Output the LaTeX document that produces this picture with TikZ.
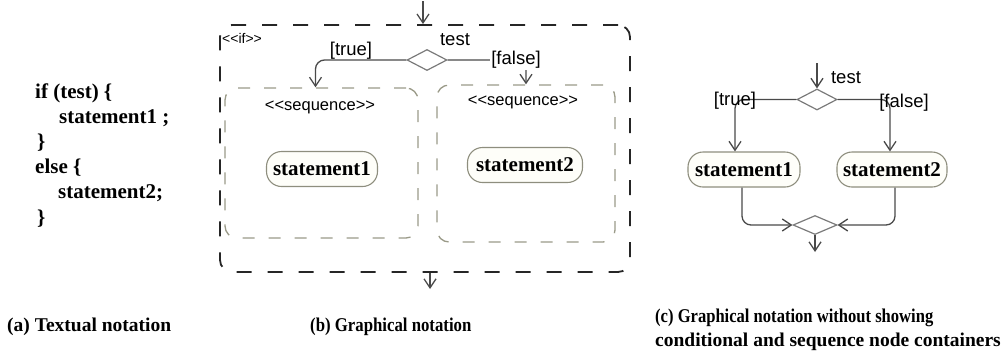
\documentclass[tikz,border=0pt]{standalone}
\usepackage{fontspec}
\setmainfont{Liberation Serif}
\newfontfamily\lblfont{Liberation Sans}
\usetikzlibrary{arrows.meta,shapes.geometric}

\definecolor{flowgray}{HTML}{4A4A4A}
\definecolor{diagray}{HTML}{7A7A7A}
\definecolor{seqgray}{HTML}{9A9A88}
\definecolor{stmtline}{HTML}{8E8E7E}
\definecolor{stmtfill}{HTML}{FEFEF9}

\tikzset{
  codeline/.style={anchor=west, inner sep=0pt, text height=14pt, text depth=4pt,
    font=\fontsize{21}{24}\selectfont\bfseries},
  caption/.style={anchor=west, inner sep=0pt, text height=13pt, text depth=4pt,
    font=\fontsize{19.5}{23}\selectfont\bfseries},
  stmt/.style={draw=stmtline, fill=stmtfill, line width=1.1pt, rounded corners=15pt,
    minimum height=35pt, inner sep=2pt, font=\fontsize{21}{23}\selectfont\bfseries},
  lbl/.style={inner sep=0pt, font=\lblfont\fontsize{18.5}{20}\selectfont},
  stereo/.style={inner sep=0pt, font=\lblfont\fontsize{16.5}{18}\selectfont},
  ifbox/.style={draw=black!85, line width=1.8pt, dash pattern=on 15pt off 16pt,
    rounded corners=12pt, inner sep=0pt},
  seqbox/.style={draw=seqgray, line width=1.3pt, dash pattern=on 12pt off 14pt,
    rounded corners=12pt, inner sep=0pt},
  decision/.style={diamond, draw=diagray, line width=1.2pt, inner sep=0pt,
    minimum width=40pt, minimum height=21pt},
  flow/.style={draw=flowgray, line width=1.3pt, rounded corners=9pt},
  tip/.style={-{Straight Barb[length=9pt,width=12pt]}}
}

\begin{document}
\begin{tikzpicture}[x=1pt,y=-1pt]
\path[use as bounding box] (0,0) rectangle (1006,354);

% (a) textual notation
\node[codeline] (c1) at (35,93)  {if (test) \{};
\node[codeline] (c2) at (59,118) {statement1 ;};
\node[codeline] (c3) at (37,143) {\}};
\node[codeline] (c4) at (35,168) {else \{};
\node[codeline] (c5) at (58,193) {statement2;};
\node[codeline] (c6) at (37,219) {\}};

% (b) graphical notation with conditional and sequence containers
\node[ifbox, minimum width=410pt, minimum height=247pt] (ifb) at (425,148.5) {};
\node[stereo, anchor=west] (iflbl) at (222,38) {\fontsize{14}{16}\selectfont<<if>>};
\node[seqbox, minimum width=193pt, minimum height=150pt] (seq1) at (321.5,163) {};
\node[seqbox, minimum width=178pt, minimum height=157pt] (seq2) at (526,163.5) {};
\node[stereo] (sq1lbl) at (320,107) {<<sequence>>};
\node[stereo] (sq2lbl) at (523,102) {<<sequence>>};
\node[stmt, minimum width=111pt] (s1b) at (322,169) {statement1};
\node[stmt, minimum width=115pt] (s2b) at (525,165) {statement2};
\node[decision] (db) at (427,60) {};

\coordinate (bin) at (423,1);
\coordinate (bout) at (430,289);
\draw[flow, tip] (bin) -- (bin |- ifb.north);
\draw[flow, tip] (db.west) -| ([xshift=-6pt]seq1.north);
\draw[flow, tip] (db.east) -| (seq2.north);
\draw[flow, tip] (ifb.south -| bout) -- (bout);

\node[lbl] (testb) at (455,40) {test};
\node[lbl] (trueb) at (351,51) {[true]};
\node[lbl, fill=white, inner sep=1pt] (falseb) at (516,60) {[false]};

% (c) graphical notation without containers
\node[decision] (dc) at (817,99.5) {};
\node[lbl] (testc) at (846,78) {test};
\node[stmt, minimum width=112pt] (s1c) at (744,169.5) {statement1};
\node[stmt, minimum width=110pt] (s2c) at (892,169.5) {statement2};
\node[decision, minimum width=44pt, minimum height=19pt] (mc) at (815,225) {};
\coordinate (cin) at (817,63);
\coordinate (cout) at (815,252);

\draw[flow, tip] (cin) -- (dc.north);
\draw[flow, tip] (dc.west) -| ([xshift=-9pt]s1c.north);
\draw[flow, tip] (dc.east) -| ([xshift=-2pt]s2c.north);
\draw[flow, tip] ([xshift=-2pt]s1c.south) |- (mc.west);
\draw[flow, tip] ([xshift=3pt]s2c.south) |- (mc.east);
\draw[flow, tip] (mc.south) -- (cout);
\node[lbl] (truec) at (735,101) {[true]};
\node[lbl] (falsec) at (904,103) {[false]};

% captions
\node[caption] (capa) at (7,327) {(a) Textual notation};
\node[caption] (capb) at (310,327) {\scalebox{0.86}[1]{(b) Graphical notation}};
\node[caption] (capc1) at (655,318) {\scalebox{0.85}[1]{(c) Graphical notation without showing}};
\node[caption] (capc2) at (655,342) {conditional and sequence node containers};
\end{tikzpicture}
\end{document}
